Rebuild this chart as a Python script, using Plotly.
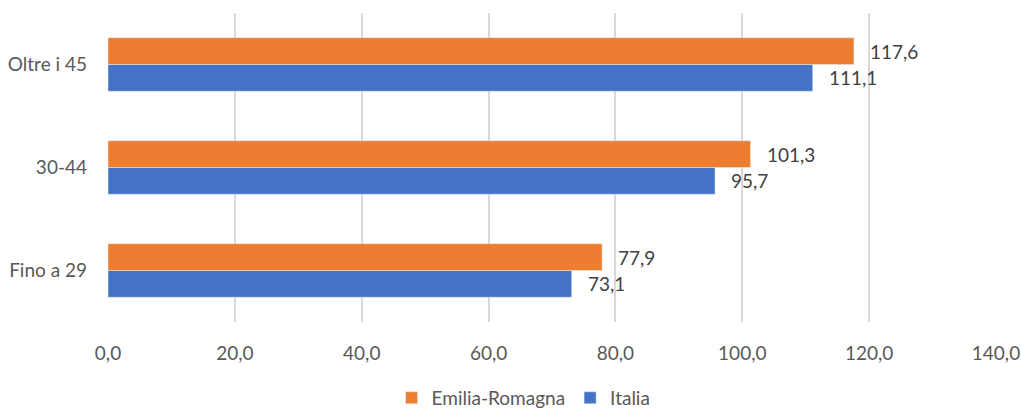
import plotly.graph_objects as go

categorie = ['Fino a 29', '30-44', 'Oltre i 45']
emilia_romagna = [77.9, 101.3, 117.6]
italia = [73.1, 95.7, 111.1]
tick_vals = [0, 20, 40, 60, 80, 100, 120, 140]
tick_text = ['0,0', '20,0', '40,0', '60,0', '80,0', '100,0', '120,0', '140,0']


def fmt(v):
    return f'{v:.1f}'.replace('.', ',')


fig = go.Figure()
# Italia first so that it sits below Emilia-Romagna in each group
fig.add_trace(go.Bar(
    y=categorie, x=italia, name='Italia', orientation='h',
    marker=dict(color='#4472C4'), legendrank=2,
))
fig.add_trace(go.Bar(
    y=categorie, x=emilia_romagna, name='Emilia-Romagna', orientation='h',
    marker=dict(color='#ED7D31'), legendrank=1,
))

# data labels to the right of each bar
for vals, shift in [(italia, -13), (emilia_romagna, 13)]:
    for cat, v in zip(categorie, vals):
        fig.add_annotation(
            x=v, y=cat, text=fmt(v), showarrow=False,
            xanchor='left', yanchor='middle', xshift=14, yshift=shift,
            font=dict(color='#404040', size=19),
        )

fig.update_layout(
    width=1021, height=409,
    barmode='group', bargap=0.48, bargroupgap=0,
    plot_bgcolor='white', paper_bgcolor='white',
    font=dict(family='Lato, Open Sans, sans-serif', size=19, color='#595959'),
    margin=dict(l=108, r=25, t=13, b=87, autoexpand=False),
    showlegend=True,
    legend=dict(orientation='h', x=0.468, xanchor='center',
                yref='container', y=0.027, yanchor='middle',
                font=dict(size=19, color='#595959'), itemwidth=30),
)
fig.update_xaxes(
    range=[0, 140], tickvals=tick_vals, ticktext=tick_text,
    showgrid=True, gridcolor='#D9D9D9', gridwidth=2,
    zeroline=False, showline=False, ticklabelstandoff=18, automargin=False,
)
fig.update_yaxes(
    showgrid=False, zeroline=False, showline=False, ticklabelstandoff=20,
    automargin=False,
)

# drop the default page margin so the figure fills the window exactly
fig.write_html('out.html', config={'displayModeBar': False},
               post_script="document.body.style.margin='0';"
                           "document.body.style.overflow='hidden';")
